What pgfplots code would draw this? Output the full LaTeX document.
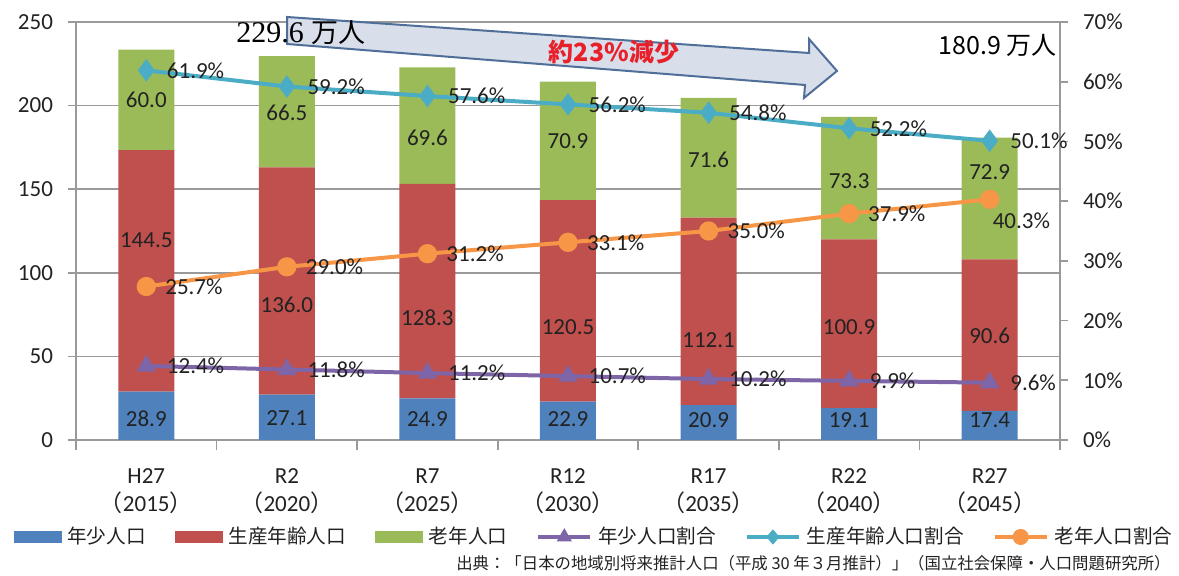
\documentclass[border=0pt]{standalone}
\usepackage{pgfplots}
\pgfplotsset{compat=1.18}
\usepackage{fontspec}
\setmainfont{Carlito}
\newfontfamily\cjk{Noto Sans CJK JP}
\newfontfamily\sernum{Liberation Serif}
\definecolor{cBlue}{HTML}{4F81BD}
\definecolor{cRed}{HTML}{C0504D}
\definecolor{cGreen}{HTML}{9BBB59}
\definecolor{cPurple}{HTML}{7D65A8}
\definecolor{cCyan}{HTML}{4BACC6}
\definecolor{cOrange}{HTML}{F79646}
\definecolor{cGrid}{HTML}{9A9A9A}
\definecolor{cText}{HTML}{222222}
\definecolor{arrFill}{HTML}{D8DEEA}
\definecolor{arrDraw}{HTML}{4F6E98}
\definecolor{cRedTxt}{HTML}{E8202A}
\begin{document}
\begin{tikzpicture}[x=1pt,y=1pt]
\path[use as bounding box] (0,0) rectangle (589.5,288);
\pgfplotsset{common/.style={at={(38pt,68pt)}, anchor=south west, scale only axis,
  width=492pt, height=209pt, xmin=-0.5, xmax=6.5, clip=false,
  /pgf/number format/assume math mode=true,
  tick label style={font=\fontsize{11.5}{14}\selectfont, text=cText}}}
% ---------- bars ----------
\begin{axis}[common, ybar stacked, bar width=28pt, ymin=0, ymax=250,
  xtick={0,...,6},
  xticklabels={{H27\\{\cjk （}2015{\cjk ）}},{R2\\{\cjk （}2020{\cjk ）}},{R7\\{\cjk （}2025{\cjk ）}},{R12\\{\cjk （}2030{\cjk ）}},{R17\\{\cjk （}2035{\cjk ）}},{R22\\{\cjk （}2040{\cjk ）}},{R27\\{\cjk （}2045{\cjk ）}}},
  xticklabel style={align=center, yshift=-7pt},
  major x tick style={draw=none},
  minor xtick={-0.5,0.5,...,6.5},
  minor x tick style={cGrid, line width=0.8pt},
  minor tick length=5pt,
  ytick={0,50,...,250},
  major tick length=4pt,
  tick align=outside,
  ymajorgrids, grid style={cGrid, line width=0.8pt},
  axis x line*=bottom, axis y line*=left,
  axis line style={cGrid, line width=0.8pt, -},
  y tick style={cGrid, line width=0.8pt},
  yticklabel style={xshift=-4pt},
]
\addplot[fill=cBlue, draw=none] coordinates {(0,28.9) (1,27.1) (2,24.9) (3,22.9) (4,20.9) (5,19.1) (6,17.4)};
\addplot[fill=cRed, draw=none] coordinates {(0,144.5) (1,136.0) (2,128.3) (3,120.5) (4,112.1) (5,100.9) (6,90.6)};
\addplot[fill=cGreen, draw=none] coordinates {(0,60.0) (1,66.5) (2,69.6) (3,70.9) (4,71.6) (5,73.3) (6,72.9)};
\end{axis}
% ---------- ratio lines ----------
\begin{axis}[common, ymin=0, ymax=70,
  axis x line=none, axis y line*=right,
  ytick={0,10,...,70},
  yticklabel={\pgfmathprintnumber{\tick}\%},
  yticklabel style={xshift=4pt},
  major tick length=4pt, tick align=outside,
  axis line style={cGrid, line width=0.8pt, -},
  y tick style={cGrid, line width=0.8pt},
  legend columns=6,
  legend style={at={(-0.07,-0.232)}, anchor=west, draw=none, fill=none,
    font=\cjk\fontsize{9.8}{11}\selectfont, text=cText,
    /tikz/every odd column/.append style={column sep=1pt},
    /tikz/every even column/.append style={column sep=12.5pt}},
  lbl/.style={nodes near coords={\pgfplotspointmeta\%}, point meta=explicit symbolic,
    every node near coord/.append style={anchor=west, xshift=6pt, font=\fontsize{11.5}{13}\selectfont, text=cText}},
]
\addlegendimage{legend image code/.code={\fill[cBlue] (0pt,-2.6pt) rectangle (23.5pt,2.6pt);}}
\addlegendimage{legend image code/.code={\fill[cRed] (0pt,-2.6pt) rectangle (23.5pt,2.6pt);}}
\addlegendimage{legend image code/.code={\fill[cGreen] (0pt,-2.6pt) rectangle (23.5pt,2.6pt);}}
\addlegendimage{legend image code/.code={\draw[cPurple, line width=2pt] (0pt,0pt) -- (26pt,0pt); \fill[cPurple] (13pt,0pt) ++(90:4pt) -- ++(240:6.9pt) -- ++(0:6.9pt) -- cycle;}}
\addlegendimage{legend image code/.code={\draw[cCyan, line width=2pt] (0pt,0pt) -- (26pt,0pt); \fill[cCyan] (13pt,3.5pt) -- (16pt,0pt) -- (13pt,-3.5pt) -- (10pt,0pt) -- cycle;}}
\addlegendimage{legend image code/.code={\draw[cOrange, line width=2pt] (0pt,0pt) -- (26pt,0pt); \fill[cOrange] (13pt,0pt) circle (3.8pt);}}
\legend{年少人口,生産年齢人口,老年人口,年少人口割合,生産年齢人口割合,老年人口割合}
\addplot[forget plot, cPurple, line width=2pt, mark=triangle*, mark size=3.6pt, lbl] coordinates {(0,12.4)[12.4] (1,11.8)[11.8] (2,11.2)[11.2] (3,10.7)[10.7] (4,10.2)[10.2] (5,9.9)[9.9] (6,9.6)[9.6]};
\addplot[forget plot, cCyan, line width=2pt, mark=diamond*, mark size=4pt, lbl] coordinates {(0,61.9)[61.9] (1,59.2)[59.2] (2,57.6)[57.6] (3,56.2)[56.2] (4,54.8)[54.8] (5,52.2)[52.2] (6,50.1)[50.1]};
\addplot[forget plot, cOrange, line width=2pt, mark=*, mark size=3.8pt] coordinates {(0,25.7) (1,29.0) (2,31.2) (3,33.1) (4,35.0) (5,37.9) (6,40.3)};
\addplot[forget plot, draw=none, lbl] coordinates {(0,25.7)[25.7] (1,29.0)[29.0] (2,31.2)[31.2] (3,33.1)[33.1] (4,35.0)[35.0] (5,37.9)[37.9]};
\addplot[forget plot, draw=none, lbl, every node near coord/.append style={anchor=north west, xshift=-8pt, yshift=-3pt}] coordinates {(6,40.3)[40.3]};
\end{axis}
% ---------- bar value labels ----------
\begin{axis}[common, hide axis, ymin=0, ymax=250]
\addplot[draw=none, nodes near coords, point meta=explicit symbolic,
  every node near coord/.append style={anchor=center, font=\fontsize{11.5}{13}\selectfont, text=cText}]
  coordinates {(0,13.0)[28.9] (1,13.0)[27.1] (2,12.2)[24.9] (3,12.2)[22.9] (4,11.6)[20.9] (5,11.6)[19.1] (6,11.6)[17.4]
  (0,119.6)[144.5] (1,80.7)[136.0] (2,73.0)[128.3] (3,67.6)[120.5] (4,59.8)[112.1] (5,67.6)[100.9] (6,62.2)[90.6]
  (0,203.3)[60.0] (1,195.6)[66.5] (2,180.6)[69.6] (3,178.8)[70.9] (4,167.5)[71.6] (5,154.9)[73.3] (6,160.3)[72.9]};
\end{axis}
% ---------- annotations ----------
\filldraw[fill=arrFill, draw=arrDraw, line width=1pt, line join=miter]
  (143.5,279.5) -- (404.5,261.5) -- (404.5,268.5) -- (418.5,252.5) -- (402,239) -- (402.5,245.5) -- (143.5,266) -- cycle;
\node[text=cRedTxt, font=\cjk\bfseries\fontsize{12.5}{13}\selectfont] at (307,262) {約23\%減少};
\node[anchor=west, inner sep=0pt] at (118,271.5) {\sernum\fontsize{15}{15}\selectfont 229.6 {\cjk\fontsize{13.5}{14}\selectfont 万人}};
\node[anchor=east, inner sep=0pt] at (528.5,265.5) {\cjk\fontsize{12.5}{13}\selectfont 180.9 万人};
\node[anchor=east, inner sep=0pt, text=cText] at (585.5,6.5) {\cjk\fontsize{8.2}{9}\selectfont 出典：「日本の地域別将来推計人口（平成 30 年３月推計）」（国立社会保障・人口問題研究所）};
\end{tikzpicture}
\end{document}
